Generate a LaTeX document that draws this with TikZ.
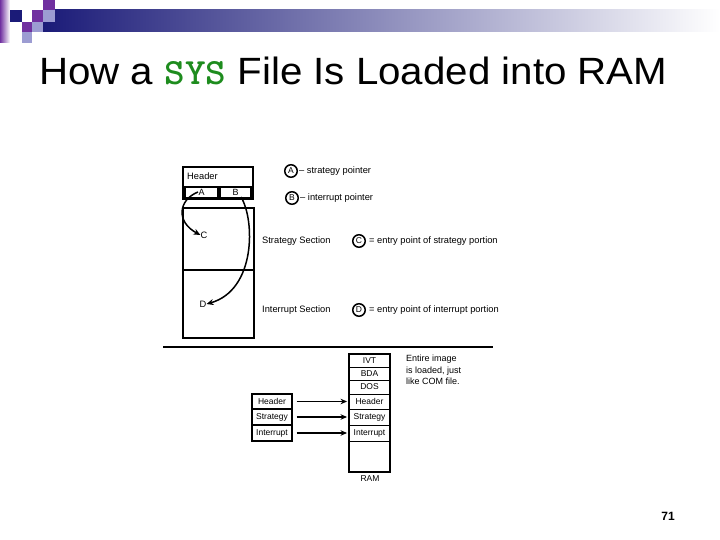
\documentclass[tikz,border=0pt]{standalone}
\usepackage{fontspec}
\setmainfont{Liberation Sans}
\usetikzlibrary{arrows.meta}
\definecolor{navyA}{HTML}{1B1B78}
\definecolor{purpA}{HTML}{7030A0}
\definecolor{lavA}{HTML}{9C9CD2}
\definecolor{sysgreen}{HTML}{1E8C1E}
\tikzset{
  sm/.style={font=\fontsize{9.3}{10.5}\selectfont, inner sep=0pt},
  cell/.style={draw, line width=0.9pt, minimum width=41pt, inner sep=0pt, font=\fontsize{8.5}{9}\selectfont},
  lcell/.style={draw, line width=1.1pt, minimum width=40pt, inner sep=0pt, font=\fontsize{8.5}{9}\selectfont},
  circmark/.style={draw, circle, line width=1.5pt, minimum size=12.5pt, inner sep=0pt, font=\fontsize{8.5}{9}\selectfont},
  ptr/.style={line width=1.5pt, -{Stealth[length=7pt,width=6pt]}},
  ld/.style={-{Stealth[length=6.5pt,width=5.5pt]}},
}
\begin{document}
\begin{tikzpicture}[x=1pt,y=-1pt]
\useasboundingbox (0,0) rectangle (720,540);
% decoration
\shade[left color=purpA, right color=white] (0,0) rectangle (10,43);
\shade[left color=navyA, right color=white] (43,10) rectangle (720,32);
\fill[navyA] (10,10) rectangle (22,22);
\fill[purpA] (43,0) rectangle (55,10);
\fill[purpA] (32,10) rectangle (43,22);
\fill[lavA] (43,10) rectangle (55,22);
\fill[purpA] (22,22) rectangle (32,32);
\fill[lavA] (32,22) rectangle (43,32);
\fill[lavA] (22,32) rectangle (32,43);
% title
\node[anchor=base west, inner sep=0pt, font=\fontsize{38}{40}\selectfont] (title) at (39,85)
  {\scalebox{1.06}[1]{How a \textcolor{sysgreen}{\ttfamily\bfseries\fontsize{37}{38}\selectfont\addfontfeature{FakeBold=2.5}SYS} File Is Loaded into RAM}};
% upper diagram
\draw[line width=1.3pt] (183,167) rectangle (253,199);
\node[sm, anchor=west] (hdr) at (187,176) {Header};
\node[draw, line width=1.2pt, minimum width=33pt, minimum height=11pt, inner sep=0pt, font=\fontsize{9}{9}\selectfont] (abox) at (201.5,192.5) {A};
\node[draw, line width=1.2pt, minimum width=31pt, minimum height=11pt, inner sep=0pt, font=\fontsize{9}{9}\selectfont] (bbox) at (235.5,192.5) {B};
\draw[line width=1.6pt] (183,208) rectangle (254,338);
\draw[line width=1.3pt] (183,270) -- (254,270);
\node[sm] (cl) at (204,235) {C};
\node[sm] (dl) at (203,304) {D};
\coordinate (astart) at (198,192);
\coordinate (bstart) at (241,197);
\draw[ptr] (astart) .. controls (178,200) and (176,222) .. (cl.west);
\draw[ptr] (bstart) .. controls (255,220) and (256,290) .. (dl.east);
% legend
\node[circmark] (ma) at (291,171) {A};
\node[sm, anchor=west] (ta) at (299,171) {-- strategy pointer};
\node[circmark] (mb) at (292,198) {B};
\node[sm, anchor=west] (tb) at (300,198) {-- interrupt pointer};
\node[sm, anchor=west] (ss) at (262,241) {Strategy Section};
\node[circmark] (mc) at (359,241) {C};
\node[sm, anchor=west] (tc) at (369,241) {= entry point of strategy portion};
\node[sm, anchor=west] (is) at (262,310) {Interrupt Section};
\node[circmark] (md) at (359,310) {D};
\node[sm, anchor=west] (td) at (369,310) {= entry point of interrupt portion};
% rule
\draw[line width=2pt] (163,347) -- (493,347);
% RAM column
\node[cell, minimum height=13pt] (ivt) at (369.5,360.5) {IVT};
\node[cell, minimum height=13pt] (bda) at (369.5,373.5) {BDA};
\node[cell, minimum height=14pt] (dos) at (369.5,387) {DOS};
\node[cell, minimum height=15pt] (rh) at (369.5,401.5) {Header};
\node[cell, minimum height=16pt] (rs) at (369.5,417) {Strategy};
\node[cell, minimum height=16pt] (ri) at (369.5,433) {Interrupt};
\node[cell, minimum height=31pt] (rfree) at (369.5,456.5) {};
\draw[line width=2.2pt] (349,354) rectangle (390,472);
\node[sm, font=\fontsize{8.5}{9}\selectfont] (ram) at (370,479) {RAM};
% file boxes
\node[lcell, minimum height=15pt] (lh) at (272,401.5) {Header};
\node[lcell, minimum height=16pt] (ls) at (272,417) {Strategy};
\node[lcell, minimum height=16pt] (li) at (272,433) {Interrupt};
\draw[line width=1.7pt] (252,394) rectangle (292,441);
\draw[ld, line width=0.9pt] ([xshift=4pt]lh.east) -- ([xshift=-1.5pt]rh.west);
\draw[ld, line width=1.7pt] ([xshift=4pt]ls.east) -- ([xshift=-1.5pt]rs.west);
\draw[ld, line width=1.7pt] ([xshift=4pt]li.east) -- ([xshift=-1.5pt]ri.west);
\node[sm, anchor=north west, align=left, font=\fontsize{9}{11.5}\selectfont] (note) at (406,355) {Entire image\\is loaded, just\\like COM file.};
% page number
\node[font=\bfseries\fontsize{12}{13}\selectfont, inner sep=0pt] (pg) at (668,516) {71};
\end{tikzpicture}
\end{document}
